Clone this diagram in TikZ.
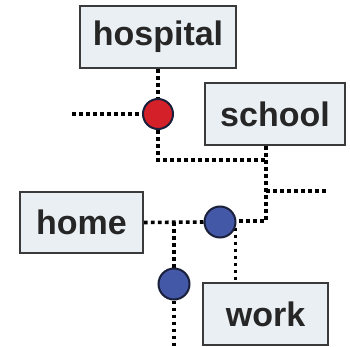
\documentclass[tikz,border=0pt]{standalone}
\usepackage{fontspec}
\setmainfont{Liberation Sans}
\definecolor{boxfill}{HTML}{E9EFF3}
\definecolor{boxline}{HTML}{3A3A3A}
\definecolor{txt}{HTML}{262626}
\definecolor{redfill}{HTML}{D42029}
\definecolor{bluefill}{HTML}{4458A8}
\definecolor{navy}{HTML}{1A1F3A}
\pgfdeclarelayer{bg}
\pgfsetlayers{bg,main}
\begin{document}
\begin{tikzpicture}[x=1pt,y=-1pt,
  place/.style={draw=boxline, line width=1.6pt, fill=boxfill, inner sep=0pt,
    text=txt, font=\fontsize{34}{34}\selectfont\bfseries},
  stop/.style={circle, draw=navy, line width=2pt, inner sep=0pt, minimum size=31pt},
  track/.style={draw=black, line width=3.6pt, dash pattern=on 3.8pt off 3.2pt}]
\useasboundingbox (0,0) rectangle (350,347);
\node[place, minimum width=156pt, minimum height=62pt] (hospital) at (158,37) {hospital};
\node[place, minimum width=140pt, minimum height=62pt] (school) at (275,114) {school};
\node[place, minimum width=123pt, minimum height=61pt] (home) at (81.5,222.5) {home};
\node[place, minimum width=125pt, minimum height=62pt] (work) at (265.5,314) {work};
\node[stop, fill=redfill, minimum size=30pt] (red) at (158,114) {};
\node[stop, fill=bluefill] (blueA) at (220,222) {};
\node[stop, fill=bluefill] (blueB) at (174,284) {};
\coordinate (westend) at (72,114);
\coordinate (c1) at (158,160);
\coordinate (c2) at (266,160);
\coordinate (c3) at (266,221);
\coordinate (c4) at (266,191);
\coordinate (eastend) at (328,191);
\coordinate (j1) at (174,222);
\coordinate (southend) at (174,347);
\begin{pgfonlayer}{bg}
\draw[track] (westend) -- (red.west);
\draw[track] (hospital.south) -- (red.north);
\draw[track] (red.south) -- (c1) -- (c2);
\draw[track] (school.south -| c2) -- (c3) -- (blueA.east |- c3);
\draw[track] (c4) -- (eastend);
\draw[track] (home.east) -- (blueA.west);
\draw[track] (j1) -- (blueB.north);
\draw[track] (blueB.south) -- (southend);
\draw[track] (blueA.-20) -- (blueA.-20 |- work.north);
\end{pgfonlayer}
\end{tikzpicture}
\end{document}
